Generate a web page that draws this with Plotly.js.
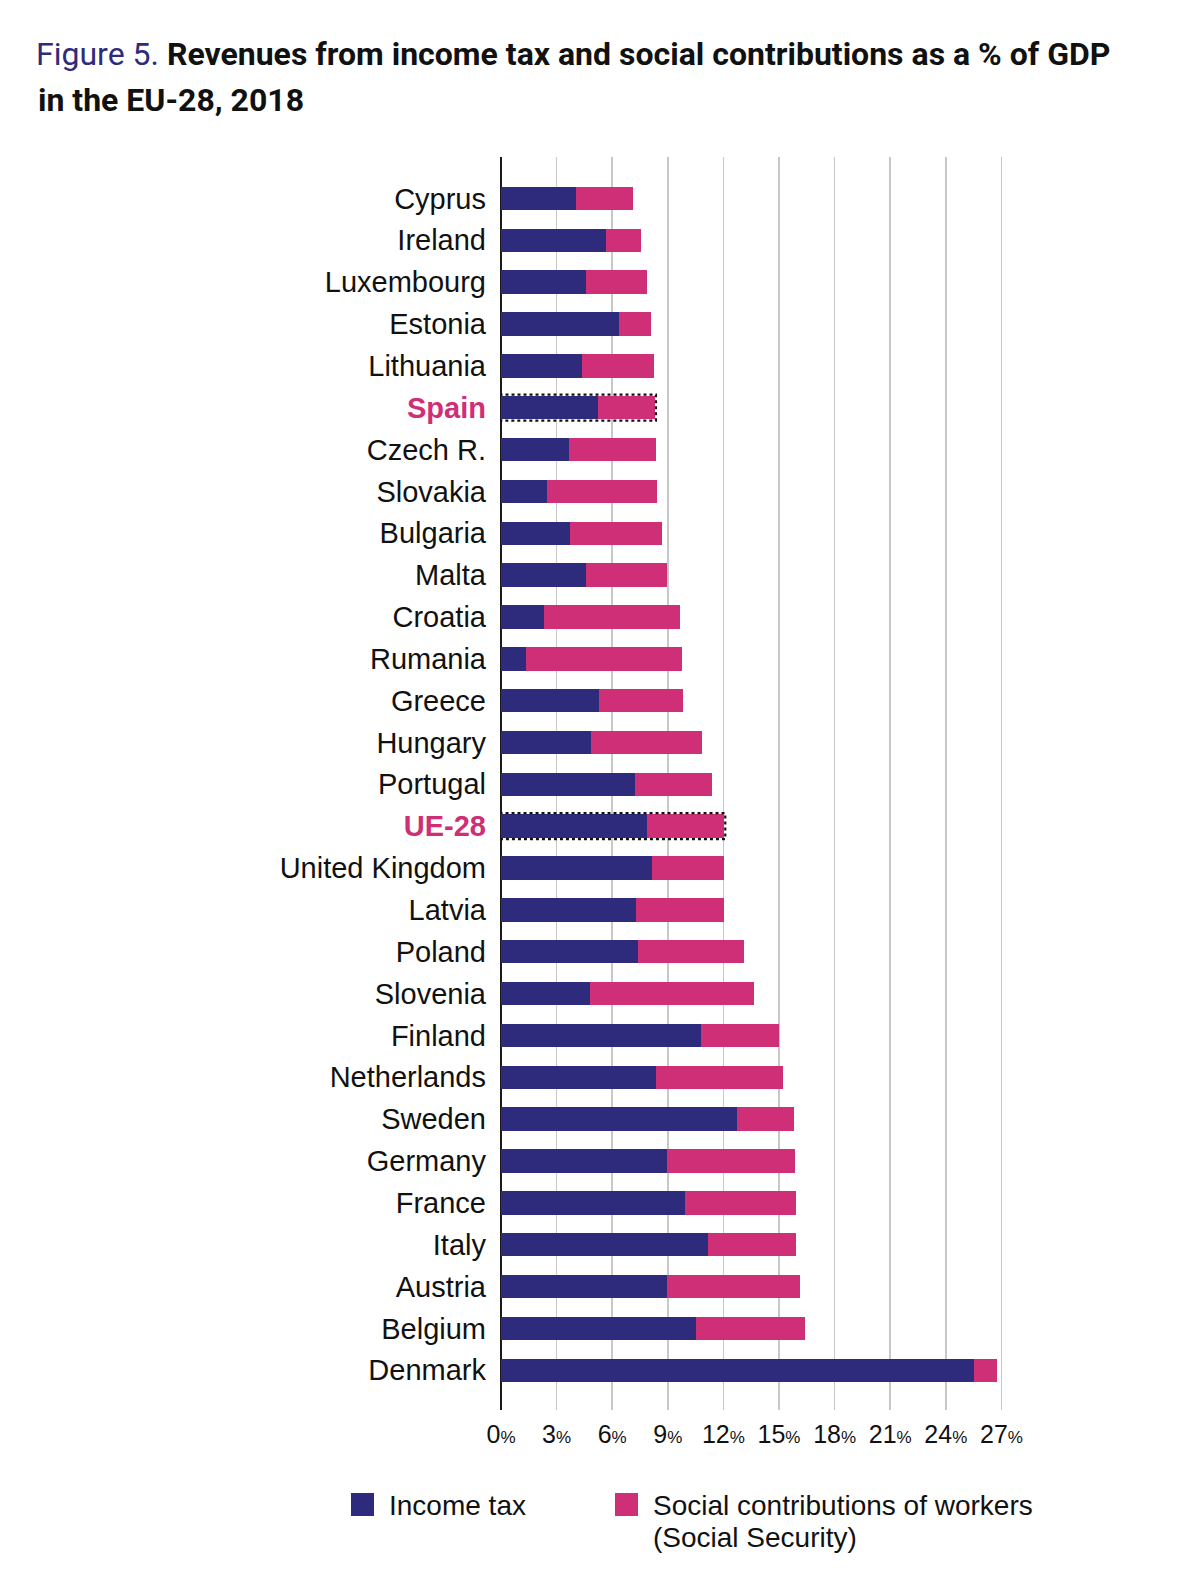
<!DOCTYPE html>
<html>
<head>
<meta charset="utf-8">
<script src="https://cdn.plot.ly/plotly-3.0.1.min.js"></script>
<style>
  html, body { margin: 0; padding: 0; background: #fff; }
  #chart { width: 1188px; height: 1594px; }
</style>
</head>
<body>
<div id="chart"></div>
<script>
// Countries, top to bottom as in the figure
var countries = ['Cyprus', 'Ireland', 'Luxembourg', 'Estonia', 'Lithuania', 'Spain', 'Czech R.',
    'Slovakia', 'Bulgaria', 'Malta', 'Croatia', 'Rumania', 'Greece', 'Hungary', 'Portugal', 'UE-28',
    'United Kingdom', 'Latvia', 'Poland', 'Slovenia', 'Finland', 'Netherlands', 'Sweden', 'Germany',
    'France', 'Italy', 'Austria', 'Belgium', 'Denmark'];

// % of GDP
var incomeTax = [4.04, 5.68, 4.58, 6.36, 4.38, 5.23, 3.68, 2.49, 3.71, 4.58, 2.31, 1.33, 5.30, 4.88,
    7.23, 7.86, 8.14, 7.28, 7.39, 4.79, 10.81, 8.36, 12.72, 8.95, 9.93, 11.19, 8.95, 10.52, 25.53];
var socialContrib = [3.08, 1.85, 3.28, 1.71, 3.85, 3.08, 4.66, 5.91, 4.97, 4.39, 7.33, 8.45, 4.52, 5.98,
    4.16, 4.19, 3.90, 4.76, 5.71, 8.85, 4.18, 6.87, 3.10, 6.91, 5.96, 4.72, 7.18, 5.88, 1.21];

var highlighted = ['Spain', 'UE-28'];
var xTicks = [0, 3, 6, 9, 12, 15, 18, 21, 24, 27];

var BLUE = '#2e2a7c';
var PINK = '#cf2f77';

// plot area in page pixels
var L = 501, R = 1007, T = 157, B = 1410;
function px(x) { return (x - L) / (R - L); }
function py(y) { return (B - y) / (B - T); }

var traces = [{
    type: 'bar', orientation: 'h',
    y: countries, x: incomeTax,
    name: 'Income tax',
    marker: { color: BLUE },
    showlegend: false
}, {
    type: 'bar', orientation: 'h',
    y: countries, x: socialContrib,
    name: 'Social contributions of workers (Social Security)',
    marker: { color: PINK },
    showlegend: false
}];

var tickText = countries.map(function (c) {
    return highlighted.indexOf(c) >= 0 ? '<b><span style="color:' + PINK + '">' + c + '</span></b>' : c;
});

// dotted frames round the highlighted bars
var shapes = highlighted.map(function (c) {
    var i = countries.indexOf(c);
    return {
        type: 'rect', xref: 'x', yref: 'y',
        x0: -0.08, x1: incomeTax[i] + socialContrib[i] + 0.05,
        y0: i - 0.31, y1: i + 0.31,
        line: { color: '#111', width: 2.2, dash: 'dot' },
        layer: 'above'
    };
});

// legend squares
shapes.push({ type: 'rect', xref: 'paper', yref: 'paper',
    x0: px(351), x1: px(374), y0: py(1516), y1: py(1493),
    fillcolor: BLUE, line: { width: 0 } });
shapes.push({ type: 'rect', xref: 'paper', yref: 'paper',
    x0: px(615), x1: px(638), y0: py(1516), y1: py(1493),
    fillcolor: PINK, line: { width: 0 } });

var titleFont = { family: 'Roboto, Liberation Sans, Arial, sans-serif', size: 32, color: '#111' };
var legFont = { family: 'Liberation Sans, Arial, sans-serif', size: 28, color: '#111' };
var annotations = [
    { text: '<b>in the EU-28, 2018</b>', xref: 'paper', yref: 'paper', x: px(36), y: py(100),
      xanchor: 'left', yanchor: 'middle', showarrow: false, font: titleFont },
    { text: 'Income tax', xref: 'paper', yref: 'paper', x: px(387), y: py(1505),
      xanchor: 'left', yanchor: 'middle', showarrow: false, font: legFont },
    { text: 'Social contributions of workers', xref: 'paper', yref: 'paper', x: px(651), y: py(1505),
      xanchor: 'left', yanchor: 'middle', showarrow: false, font: legFont },
    { text: '(Social Security)', xref: 'paper', yref: 'paper', x: px(651), y: py(1537),
      xanchor: 'left', yanchor: 'middle', showarrow: false, font: legFont }
];

var layout = {
    width: 1188, height: 1594,
    margin: { l: L, r: 1188 - R, t: T, b: 1594 - B },
    paper_bgcolor: '#fff', plot_bgcolor: '#fff',
    barmode: 'stack', bargap: 0.44,
    font: { family: 'Liberation Sans, Arial, sans-serif', color: '#111' },
    title: {
        text: '<span style="color:' + BLUE + '">Figure 5.</span> <b>Revenues from income tax and social contributions as a % of GDP</b>',
        xref: 'container', yref: 'container', x: 36 / 1188, y: 1 - 54 / 1594,
        xanchor: 'left', yanchor: 'middle',
        font: titleFont
    },
    xaxis: {
        range: [0, 27.3],
        tickvals: xTicks,
        ticktext: xTicks.map(function (v) { return v + '<span style="font-size:17px">%</span>'; }),
        tickfont: { size: 25, color: '#111' },
        ticks: '', ticklabelstandoff: 7,
        showgrid: true, gridcolor: '#c8c8c8', gridwidth: 1.5,
        zeroline: true, zerolinecolor: '#1a1a1a', zerolinewidth: 1.6,
        showline: false, fixedrange: true
    },
    yaxis: {
        type: 'category',
        categoryorder: 'array', categoryarray: countries,
        range: [28.95, -0.99],
        tickvals: countries, ticktext: tickText,
        tickfont: { size: 29, color: '#111' },
        ticks: '', ticklabelstandoff: 14,
        showgrid: false, zeroline: false, showline: false, fixedrange: true
    },
    shapes: shapes,
    annotations: annotations
};

Plotly.newPlot('chart', traces, layout, { displayModeBar: false, staticPlot: true });
</script>
</body>
</html>
